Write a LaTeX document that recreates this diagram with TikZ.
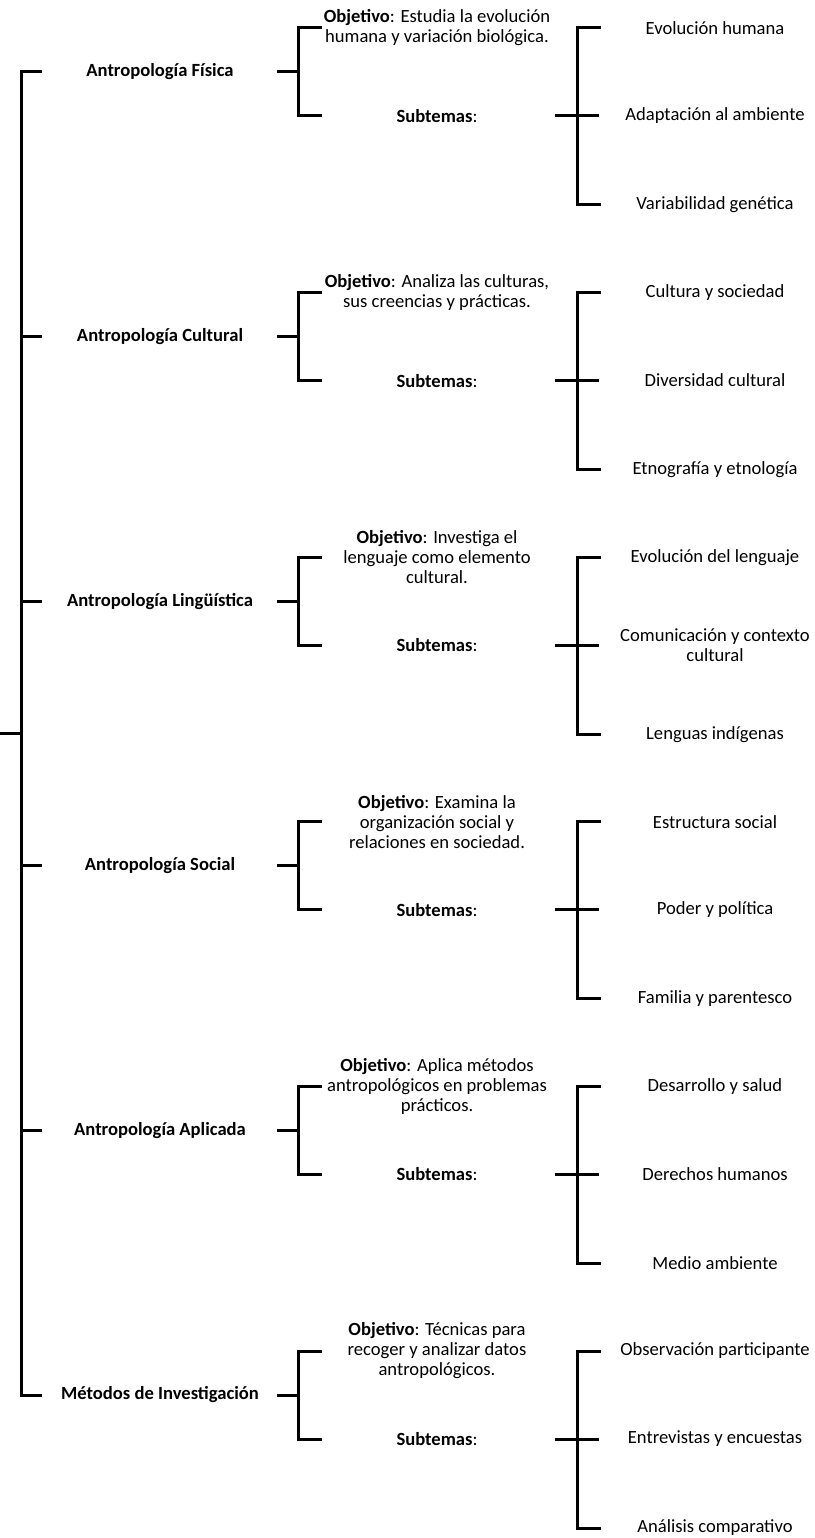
\documentclass[tikz,border=0pt]{standalone}
\usepackage{fontspec}
\setmainfont{Carlito}
\begin{document}
\begin{tikzpicture}[x=1pt,y=-1pt,
  ln/.style={line width=3pt,line cap=rect},
  txt/.style={font=\fontsize{18.6}{20}\selectfont,align=center,inner sep=0pt},
  sect/.style={txt,font=\fontsize{18.6}{20}\selectfont\bfseries}]
\useasboundingbox (0,0) rectangle (814,1538);
\coordinate (root) at (0,733);
\coordinate (rootj) at (21,733);
\coordinate (mtop) at (21,72);
\coordinate (mbot) at (21,1395);
\draw[ln,line cap=butt] (root) -- (rootj);
\draw[ln] (mtop) -- (mbot);
\foreach \i/\name/\obj/\a/\b/\c in {
 0/{Antropología Física}/{\textbf{Objetivo}: Estudia la evolución\\humana y variación biológica.}/{Evolución humana}/{Adaptación al ambiente}/{Variabilidad genética},
 1/{Antropología Cultural}/{\textbf{Objetivo}: Analiza las culturas,\\sus creencias y prácticas.}/{Cultura y sociedad}/{Diversidad cultural}/{Etnografía y etnología},
 2/{Antropología Lingüística}/{\textbf{Objetivo}: Investiga el\\lenguaje como elemento\\cultural.}/{Evolución del lenguaje}/{Comunicación y contexto\\cultural}/{Lenguas indígenas},
 3/{Antropología Social}/{\textbf{Objetivo}: Examina la\\organización social y\\relaciones en sociedad.}/{Estructura social}/{Poder y política}/{Familia y parentesco},
 4/{Antropología Aplicada}/{\textbf{Objetivo}: Aplica métodos\\antropológicos en problemas\\prácticos.}/{Desarrollo y salud}/{Derechos humanos}/{Medio ambiente},
 5/{Métodos de Investigación}/{\textbf{Objetivo}: Técnicas para\\recoger y analizar datos\\antropológicos.}/{Observación participante}/{Entrevistas y encuestas}/{Análisis comparativo}}
{
 \pgfmathsetmacro{\y}{72+264.6*\i}
 \node[sect] (s\i) at (160,\y) {\name};
 \node[txt] (o\i) at (437,\y-44) {\obj};
 \node[txt] (st\i) at (437,\y+44) {\textbf{Subtemas}:};
 \node[txt] (a\i) at (715,\y-44) {\a};
 \node[txt] (b\i) at (715,\y+44) {\b};
 \node[txt] (c\i) at (715,\y+133) {\c};
 \coordinate (m\i) at (21,\y);
 \coordinate (mt\i) at (42,\y);
 \coordinate (p\i) at (277,\y);
 \coordinate (q\i) at (298,\y);
 \coordinate (qo\i) at (298,\y-44);
 \coordinate (qs\i) at (298,\y+44);
 \coordinate (ro\i) at (320,\y-44);
 \coordinate (rs\i) at (320,\y+44);
 \coordinate (u\i) at (555,\y+44);
 \coordinate (v\i) at (577,\y+44);
 \coordinate (va\i) at (577,\y-44);
 \coordinate (vc\i) at (577,\y+133);
 \coordinate (wa\i) at (599,\y-44);
 \coordinate (wb\i) at (599,\y+44);
 \coordinate (wc\i) at (599,\y+133);
 \draw[ln,line cap=butt] (m\i) -- (mt\i);
 \draw[ln,line cap=butt] (p\i) -- (q\i);
 \draw[ln] (ro\i) -- (qo\i) -- (qs\i) -- (rs\i);
 \draw[ln,line cap=butt] (u\i) -- (v\i);
 \draw[ln,line cap=butt] (v\i) -- (wb\i);
 \draw[ln] (wa\i) -- (va\i) -- (vc\i) -- (wc\i);
}
\end{tikzpicture}
\end{document}
